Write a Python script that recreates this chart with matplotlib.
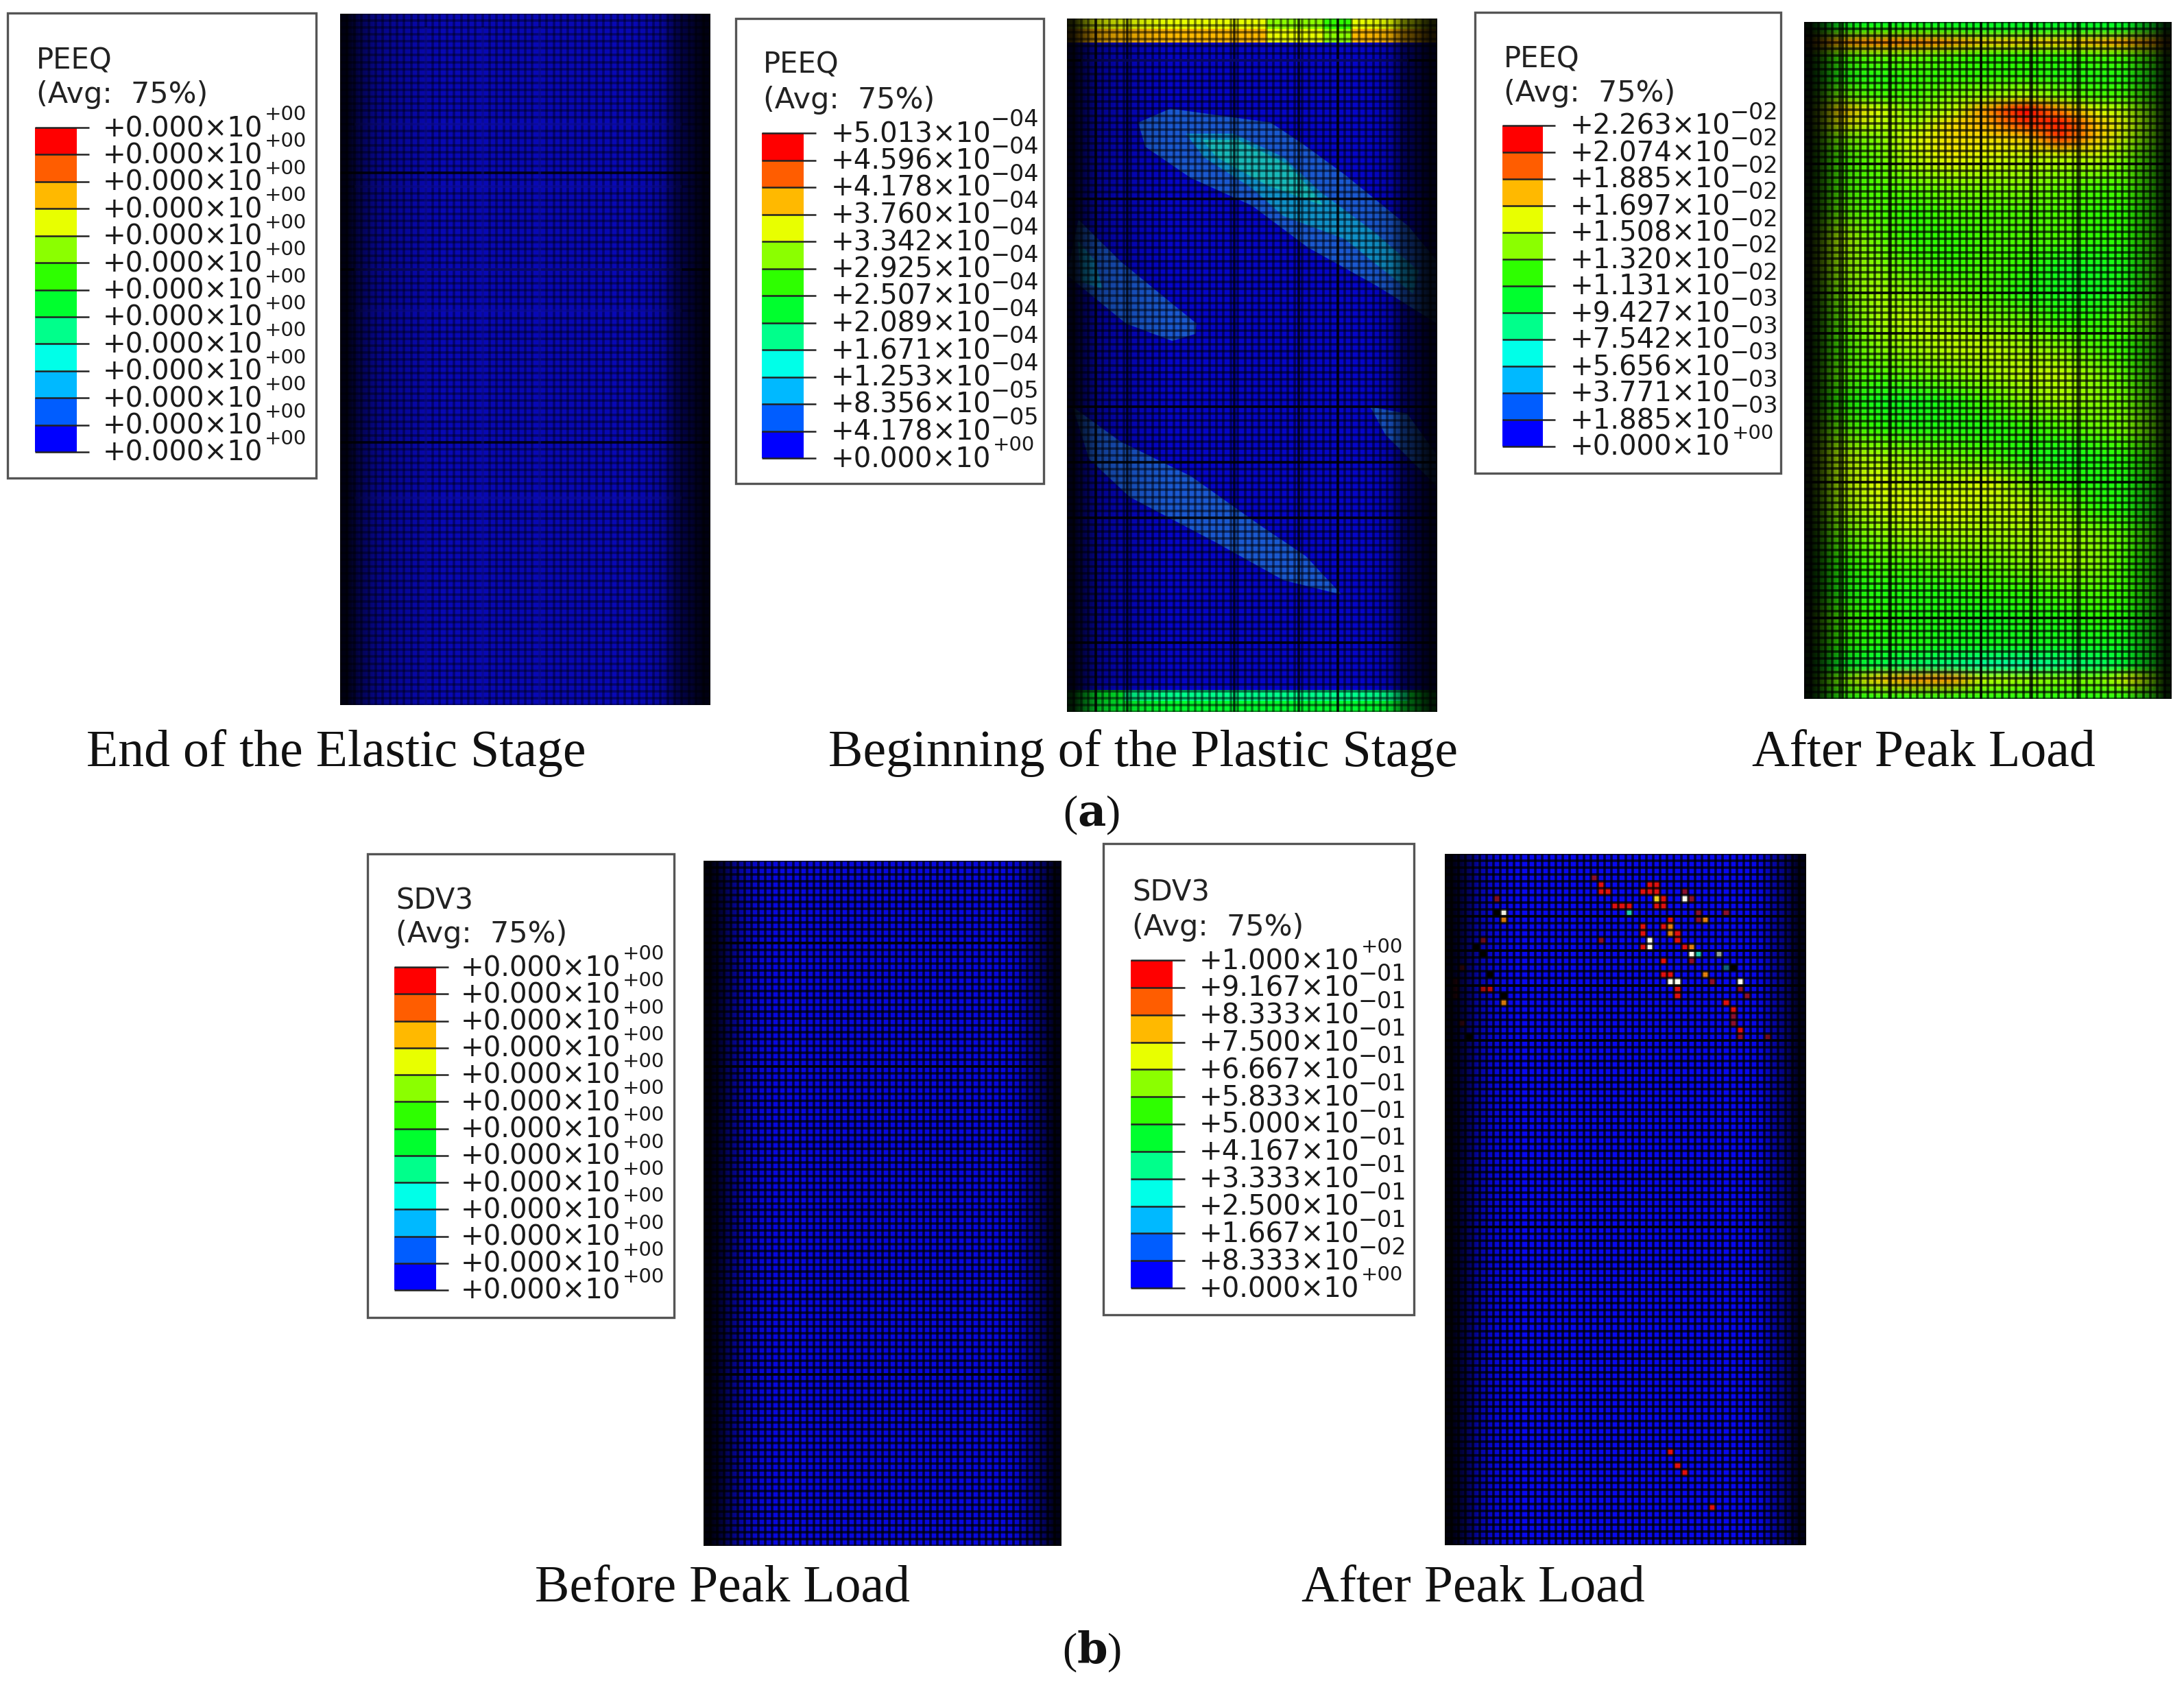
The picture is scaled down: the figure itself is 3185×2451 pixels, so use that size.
import numpy as np
import matplotlib
matplotlib.use("Agg")
import matplotlib.pyplot as plt
from matplotlib.colors import LinearSegmentedColormap, BoundaryNorm, ListedColormap
from matplotlib.patches import Rectangle

W, H = 3185, 2451

# Abaqus legend colours, top to bottom is red to blue
colores = ["#FF0000", "#FF5D00", "#FFB900", "#E8FF00", "#8BFF00", "#2EFF00",
           "#00FF2E", "#00FF8B", "#00FFE8", "#00B9FF", "#005DFF", "#0000FF"]
colores_sube = colores[::-1]

# legend values
mant_cero = ["+0.000"] * 13
exp_cero = ["+00"] * 13
mant_plast = ["+5.013", "+4.596", "+4.178", "+3.760", "+3.342", "+2.925", "+2.507",
              "+2.089", "+1.671", "+1.253", "+8.356", "+4.178", "+0.000"]
exp_plast = ["\u221204"] * 10 + ["\u221205", "\u221205", "+00"]
mant_pico = ["+2.263", "+2.074", "+1.885", "+1.697", "+1.508", "+1.320", "+1.131",
             "+9.427", "+7.542", "+5.656", "+3.771", "+1.885", "+0.000"]
exp_pico = ["\u221202"] * 7 + ["\u221203"] * 5 + ["+00"]
mant_sdv = ["+1.000", "+9.167", "+8.333", "+7.500", "+6.667", "+5.833", "+5.000",
            "+4.167", "+3.333", "+2.500", "+1.667", "+8.333", "+0.000"]
exp_sdv = ["+00"] + ["\u221201"] * 10 + ["\u221202", "+00"]

# plastic stage, zones in element coordinates (column, row)
zona_a_x = [10, 14.5, 28.6, 33, 39, 48, 52, 52, 43.4, 33.8, 26, 17.4, 11]
zona_a_y = [15, 13, 15, 18, 22.5, 30, 35, 44, 38.5, 33, 27, 23, 18.5]
zona_a2_x = [16.7, 23.4, 30.4, 35.6, 43.4, 49.4, 48.6, 39, 30.4, 26, 19.2]
zona_a2_y = [16.6, 16.6, 20, 25, 31, 36.4, 39.7, 31.8, 28.5, 24.5, 20]
zona_a3_x = [19, 24, 31, 35, 36, 28, 21]
zona_a3_y = [17.5, 17.5, 21, 25.5, 27, 24, 20]
zona_b_x = [1.6, 7.5, 18.2, 18, 14.8, 8.3, 0]
zona_b_y = [29, 35, 44, 45.5, 46.5, 44, 37]
zona_b2_x = [1.5, 4, 5, 2]
zona_b2_y = [32, 35, 39, 38]
zona_c_x = [0.8, 7.5, 17.4, 27, 33.5, 38.5, 38.2, 30.4, 20.8, 8.8, 3.1]
zona_c_y = [56, 61, 66, 73, 77.5, 83, 83, 81, 75.5, 69, 63.5]
zona_d_x = [42.6, 47.8, 52, 52, 44.7]
zona_d_y = [56, 57, 63, 67.5, 60]

# end strips of the plastic stage (PEEQ x 1e-4)
franja_x = np.linspace(0, 52, 14)
franja_sup1 = [3.5, 3.6, 3.6, 3.5, 3.6, 3.5, 3.4, 3.0, 3.0, 2.8, 3.4, 3.5, 3.6]
franja_sup2 = [3.9, 3.9, 3.8, 3.9, 3.9, 3.9, 3.8, 3.7, 3.4, 3.3, 3.8, 3.9, 3.9]
franja_inf1 = [2.2, 2.1, 2.0, 1.9, 1.9, 1.8, 1.8, 1.9, 1.9, 1.8, 1.9, 2.0, 2.2]
franja_inf2 = [2.4, 2.2, 2.2, 2.1, 2.1, 2.1, 2.1, 2.1, 2.1, 2.1, 2.2, 2.2, 2.4]

# after peak PEEQ (x 1e-2), columns every 5.2 elements
pico_x = np.linspace(0, 52, 11)
pico_y = [0, 1, 3, 5, 8, 11, 13, 15, 17, 20, 24, 28, 32, 36, 40, 44, 48, 52, 56, 60,
          64, 68, 72, 76, 80, 84, 88, 92, 95, 97, 100]
pico_z = [
    [1.0, 1.0, 1.0, 1.0, 1.0, 1.0, 1.0, 1.0, 1.0, 1.0, 1.0],
    [1.1, 1.1, 1.15, 1.15, 1.1, 1.05, 1.05, 1.05, 1.05, 1.05, 1.05],
    [1.7, 1.7, 1.75, 1.75, 1.7, 1.6, 1.6, 1.6, 1.65, 1.7, 1.7],
    [1.2, 1.2, 1.25, 1.25, 1.2, 1.15, 1.15, 1.15, 1.2, 1.2, 1.2],
    [1.1, 1.1, 1.1, 1.15, 1.15, 1.15, 1.15, 1.1, 1.1, 1.1, 1.1],
    [1.2, 1.3, 1.2, 1.2, 1.3, 1.35, 1.4, 1.3, 1.2, 1.2, 1.15],
    [1.3, 1.6, 1.45, 1.3, 1.4, 1.7, 2.05, 1.7, 1.45, 1.35, 1.2],
    [1.3, 1.5, 1.4, 1.35, 1.55, 1.65, 1.85, 1.9, 1.6, 1.4, 1.2],
    [1.25, 1.3, 1.3, 1.45, 1.55, 1.55, 1.6, 1.85, 1.6, 1.35, 1.2],
    [1.2, 1.2, 1.25, 1.4, 1.5, 1.45, 1.4, 1.4, 1.4, 1.25, 1.15],
    [1.2, 1.2, 1.2, 1.25, 1.3, 1.3, 1.3, 1.25, 1.2, 1.2, 1.15],
    [1.2, 1.25, 1.2, 1.15, 1.2, 1.2, 1.2, 1.2, 1.15, 1.15, 1.15],
    [1.3, 1.4, 1.25, 1.15, 1.15, 1.2, 1.2, 1.2, 1.15, 1.15, 1.2],
    [1.35, 1.35, 1.3, 1.2, 1.15, 1.2, 1.15, 1.05, 1.05, 1.1, 1.25],
    [1.25, 1.3, 1.35, 1.3, 1.25, 1.2, 1.1, 1.05, 1.05, 1.1, 1.25],
    [1.2, 1.25, 1.35, 1.4, 1.35, 1.3, 1.25, 1.15, 1.15, 1.25, 1.3],
    [1.2, 1.2, 1.3, 1.35, 1.4, 1.4, 1.35, 1.3, 1.2, 1.15, 1.2],
    [1.2, 1.25, 1.2, 1.25, 1.3, 1.35, 1.4, 1.4, 1.3, 1.2, 1.2],
    [1.2, 1.15, 1.05, 1.05, 1.1, 1.2, 1.3, 1.35, 1.3, 1.25, 1.2],
    [1.3, 1.25, 1.15, 1.1, 1.1, 1.1, 1.15, 1.2, 1.25, 1.3, 1.25],
    [1.35, 1.4, 1.35, 1.3, 1.25, 1.2, 1.1, 1.05, 1.1, 1.15, 1.2],
    [1.3, 1.4, 1.45, 1.4, 1.4, 1.45, 1.3, 1.15, 1.1, 1.1, 1.15],
    [1.25, 1.35, 1.4, 1.45, 1.45, 1.4, 1.4, 1.3, 1.15, 1.1, 1.1],
    [1.2, 1.25, 1.3, 1.35, 1.35, 1.35, 1.35, 1.35, 1.3, 1.2, 1.15],
    [1.15, 1.15, 1.2, 1.2, 1.25, 1.25, 1.3, 1.35, 1.3, 1.15, 1.1],
    [1.15, 1.1, 1.1, 1.1, 1.1, 1.15, 1.15, 1.2, 1.2, 1.15, 1.1],
    [1.3, 1.2, 1.15, 1.1, 1.1, 1.05, 1.1, 1.1, 1.15, 1.1, 1.1],
    [1.2, 1.15, 1.1, 1.1, 1.05, 1.05, 1.05, 1.05, 1.05, 1.05, 1.1],
    [1.1, 1.0, 0.95, 0.9, 0.85, 0.8, 0.8, 0.85, 0.9, 1.0, 1.1],
    [1.2, 1.3, 1.6, 1.7, 1.7, 1.4, 1.35, 1.3, 1.3, 1.5, 1.2],
    [1.1, 1.1, 1.1, 1.1, 1.1, 1.1, 1.1, 1.1, 1.1, 1.1, 1.1],
]

# failed elements, SDV3 after peak: column, row, state
dano_col = [21, 22, 22, 23, 29, 30, 28, 29, 30, 30, 31, 30, 31, 24, 25, 26, 26, 34, 34, 35,
            36, 36, 37, 40, 32, 31, 32, 32, 33, 33, 28, 28, 29, 29, 28, 22, 34, 35, 35, 36,
            35, 31, 31, 32, 32, 33, 33, 33, 37, 38, 40, 39, 42, 42, 43, 40, 41, 41, 41, 42,
            42, 46, 7, 8, 8, 5, 5, 6, 8, 2, 1, 2, 32, 33, 34, 38,
            4, 5, 7, 8, 6, 41, 3, 1, 1]
dano_fil = [3, 4, 5, 5, 4, 4, 5, 5, 5, 6, 6, 7, 7, 7, 7, 7, 8, 5, 6, 6,
            8, 9, 9, 8, 9, 10, 10, 11, 11, 12, 10, 11, 12, 13, 13, 12, 13, 13, 14, 14,
            15, 15, 17, 17, 18, 18, 19, 20, 17, 18, 16, 14, 18, 19, 20, 21, 22, 23, 24, 25,
            26, 26, 6, 8, 9, 12, 19, 19, 21, 16, 19, 24, 86, 88, 89, 94,
            13, 14, 8, 20, 17, 16, 26, 18, 20]
dano_est = ["d", "r", "r", "r", "r", "r", "r", "r", "r", "y", "r", "r", "r", "r", "r", "r", "t", "d", "w", "d",
            "d", "d", "o", "d", "r", "r", "o", "o", "r", "r", "r", "r", "w", "w", "r", "d", "r", "o", "w", "t",
            "d", "r", "r", "r", "w", "w", "r", "r", "o", "d", "b", "g", "w", "d", "d", "r", "r", "d", "d", "r",
            "d", "d", "d", "w", "o", "d", "r", "r", "o", "d", "d", "d", "r", "r", "r", "r",
            "k", "k", "k", "k", "k", "k", "k", "d", "d"]
dano_color = {"r": "#E01010", "d": "#8A1030", "o": "#E08010", "y": "#F0D020", "t": "#20C8B0",
              "w": "#FFFFF0", "b": "#106080", "g": "#90A0A0", "k": "#000000"}

# darkening across the cylinder, every 2 elements
sombra_azul = [0.9, 0.55, 0.3, 0.2, 0.15, 0.1, 0.05, 0, 0, 0, 0, 0, 0, 0, 0, 0, 0, 0, 0, 0,
               0, 0, 0.05, 0.15, 0.55, 0.7, 0.9]
sombra_fuerte = [0.95, 0.7, 0.35, 0.15, 0.05, 0, 0, 0, 0, 0, 0, 0, 0, 0, 0, 0, 0, 0, 0, 0,
                 0, 0, 0, 0.05, 0.3, 0.5, 0.9]

titulos_a = ["End of the Elastic Stage", "Beginning of the Plastic Stage", "After Peak Load"]
titulos_b = ["Before Peak Load", "After Peak Load"]

fig = plt.figure(figsize=(W / 100, H / 100), dpi=100, facecolor="white")
base = fig.add_axes([0, 0, 1, 1])
base.set_xlim(0, W)
base.set_ylim(H, 0)
base.axis("off")

cmap_sube = LinearSegmentedColormap.from_list("abaqus", colores_sube)
cmap_sombra = LinearSegmentedColormap.from_list("sombra", [(0, 0, 0, 0), (0, 0, 0, 1)])
cmap_bandas = ListedColormap(colores_sube)
norm_plast = BoundaryNorm(np.linspace(0, 5.013, 13), 12)


def leyenda(caja, barra, xtexto, titulo, ytitulo, mant, exps):
    x0, y0, x1, y1 = caja
    base.add_patch(Rectangle((x0, y0), x1 - x0, y1 - y0, fc="white", ec="#555555", lw=2.4))
    base.text(barra[0] + 2, ytitulo[0] + 3, titulo, fontsize=30, va="center", color="#222222")
    base.text(barra[0] + 2, ytitulo[1] + 3, "(Avg:  75%)", fontsize=31, va="center", color="#222222")
    ys = np.linspace(barra[1], barra[3], 13)
    for i in range(12):
        base.add_patch(Rectangle((barra[0], ys[i]), barra[2] - barra[0], ys[i + 1] - ys[i],
                                 fc=colores[i], ec="none"))
    base.hlines(ys, barra[0], barra[2] + 18, color="#222222", lw=1.8)
    for y, m, e in zip(ys, mant, exps):
        base.text(xtexto, y + 2, m + "\u00d710", fontsize=29, va="center", color="#1a1a1a")
        # the minus exponents are wider in the original
        if e[0] == "+":
            base.text(xtexto + 236, y - 19, e, fontsize=21, va="center", color="#1a1a1a")
        else:
            base.text(xtexto + 232, y - 19, e, fontsize=24, va="center", color="#1a1a1a")


def cilindro(px, color, sombra, malla_a, oscuras_c=(), oscuras_f=(), claras_c=(), claras_f=()):
    ax = fig.add_axes([px[0] / W, 1 - px[3] / H, (px[2] - px[0]) / W, (px[3] - px[1]) / H])
    ax.axhspan(0, 100, color=color, lw=0, zorder=1)
    ax.set_xlim(0, 52)
    ax.set_ylim(100, 0)
    ax.axis("off")
    ax.vlines(np.arange(53), 0, 100, color="black", lw=2.6, alpha=malla_a, zorder=5)
    ax.hlines(np.arange(101), 0, 52, color="black", lw=2.6, alpha=malla_a, zorder=5)
    ax.vlines(oscuras_c, 0, 100, color="black", lw=2.6, alpha=0.75, zorder=6)
    ax.hlines(oscuras_f, 0, 52, color="black", lw=2.6, alpha=0.75, zorder=6)
    ax.vlines(claras_c, 2, 100, color="#1818f0", lw=3, alpha=0.3, zorder=6)
    ax.hlines(claras_f, 2, 48, color="#1818f0", lw=3, alpha=0.35, zorder=6)
    ax.imshow([sombra], cmap=cmap_sombra, vmin=0, vmax=1, extent=(0, 52, 100, 0),
              aspect="auto", interpolation="bilinear", zorder=7)
    ax.set_xlim(0, 52)
    ax.set_ylim(100, 0)
    return ax


# (a) PEEQ
leyenda((11, 19, 461, 697), (51, 186, 112, 659), 150, "PEEQ", (85, 135), mant_cero, exp_cero)
cilindro((496, 20, 1036, 1028), "#0808B4", sombra_azul, 0.38,
         oscuras_f=[23, 37, 62], claras_c=[12, 20, 28], claras_f=[16, 25, 37, 43, 70])

leyenda((1073, 27, 1522, 705), (1111, 194, 1172, 668), 1212, "PEEQ", (92, 143), mant_plast, exp_plast)
ax2 = cilindro((1556, 27, 2096, 1038), "#0505C8", sombra_azul, 0.5,
               oscuras_c=[4, 8.5, 23.5, 32.5, 38], oscuras_f=[6, 26, 56, 64, 72, 90],
               claras_f=[6])
for zx, zy, col in [(zona_a_x, zona_a_y, "#1A58D0"), (zona_b_x, zona_b_y, "#1A58D0"),
                    (zona_c_x, zona_c_y, "#1A58D0"), (zona_d_x, zona_d_y, "#1A58D0"),
                    (zona_a2_x, zona_a2_y, "#1090C8"), (zona_a3_x, zona_a3_y, "#18B8B8"),
                    (zona_b2_x, zona_b2_y, "#1090C8")]:
    ax2.fill(zx, zy, color=col, lw=0, zorder=2)
ax2.pcolormesh(franja_x, [0, 1.5, 3.5], [franja_sup1, franja_sup2], cmap=cmap_bandas,
               norm=norm_plast, zorder=3)
ax2.pcolormesh(franja_x, [96.8, 98.4, 100], [franja_inf1, franja_inf2], cmap=cmap_bandas,
               norm=norm_plast, zorder=3)

leyenda((2151, 18, 2597, 690), (2191, 183, 2250, 651), 2290, "PEEQ", (84, 133), mant_pico, exp_pico)
ax3 = cilindro((2631, 32, 3167, 1019), "#10D000", sombra_fuerte, 0.68,
               oscuras_c=[5.4, 12.2, 25, 32.2, 38.7], oscuras_f=[21, 40, 46, 68, 88])
ax3.pcolormesh(pico_x, pico_y, np.array(pico_z), shading="gouraud", cmap=cmap_sube,
               vmin=0.2, vmax=1.95, zorder=2)

# (b) SDV3
leyenda((536, 1245, 983, 1921), (575, 1410, 636, 1881), 672, "SDV3", (1310, 1359), mant_cero, exp_cero)
cilindro((1026, 1255, 1548, 2254), "#0808E0", sombra_fuerte, 0.7, oscuras_f=[12, 30, 75])

leyenda((1609, 1230, 2062, 1917), (1649, 1400, 1710, 1878), 1749, "SDV3", (1298, 1349), mant_sdv, exp_sdv)
ax5 = cilindro((2107, 1245, 2634, 2253), "#0808F0", sombra_fuerte, 0.75, oscuras_f=[9, 14, 19, 27, 54])
ax5.bar(dano_col, 1, bottom=dano_fil, width=1, align="edge",
        color=[dano_color[e] for e in dano_est], lw=0, zorder=3)

# captions
for x, t in zip([490, 1667, 2805], titulos_a):
    base.text(x, 1098, t, family="Liberation Serif", fontsize=54.5, ha="center", va="center", color="#111111")
for x, t in zip([1054, 2148], titulos_b):
    base.text(x, 2317, t, family="Liberation Serif", fontsize=54.5, ha="center", va="center", color="#111111")
for y, letra in zip([1189, 2408], ["a", "b"]):
    base.text(1592, y, "(" + r"$\mathbf{" + letra + "}$" + ")", family="Liberation Serif",
              fontsize=46, ha="center", va="center", color="#111111", math_fontfamily="dejavuserif")

fig.savefig("out.png", dpi=100)
